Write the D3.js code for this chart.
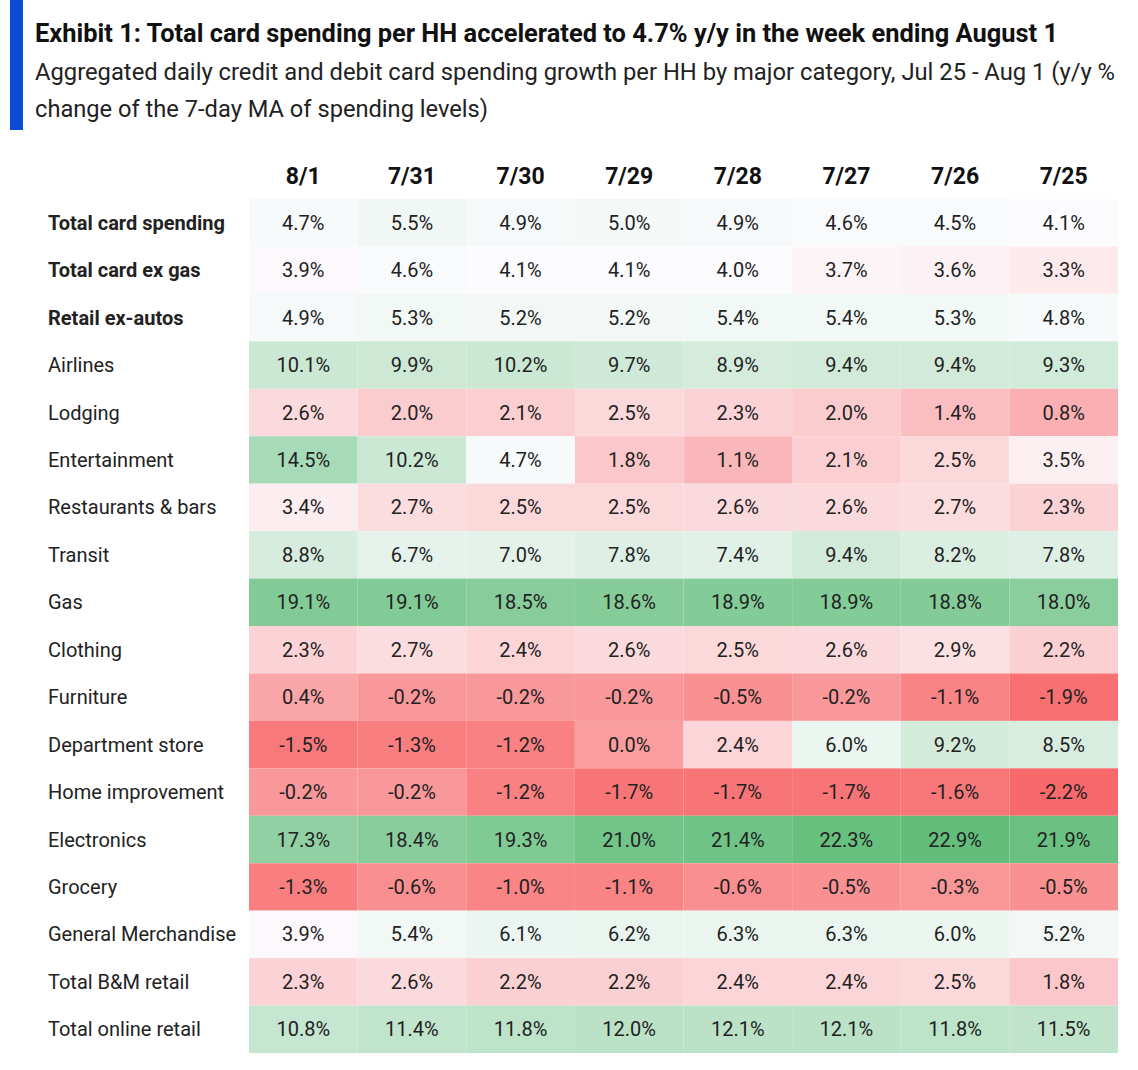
<!DOCTYPE html>
<html><head><meta charset="utf-8">
<script src="https://cdn.jsdelivr.net/npm/d3@7"></script>
<style>body{margin:0;background:#fff;font-family:Roboto,"Noto Sans",sans-serif}</style>
</head><body><svg id="chart" width="1138" height="1070"></svg>
<script>
// dates, row labels, and the y/y values
var dates = ["8/1","7/31","7/30","7/29","7/28","7/27","7/26","7/25"];
var rowLabels = ["Total card spending","Total card ex gas","Retail ex-autos","Airlines","Lodging","Entertainment","Restaurants & bars","Transit","Gas","Clothing","Furniture","Department store","Home improvement","Electronics","Grocery","General Merchandise","Total B&M retail","Total online retail"];
var boldRows = ["Total card spending","Total card ex gas","Retail ex-autos"];
var values = [
  [4.7,5.5,4.9,5.0,4.9,4.6,4.5,4.1],
  [3.9,4.6,4.1,4.1,4.0,3.7,3.6,3.3],
  [4.9,5.3,5.2,5.2,5.4,5.4,5.3,4.8],
  [10.1,9.9,10.2,9.7,8.9,9.4,9.4,9.3],
  [2.6,2.0,2.1,2.5,2.3,2.0,1.4,0.8],
  [14.5,10.2,4.7,1.8,1.1,2.1,2.5,3.5],
  [3.4,2.7,2.5,2.5,2.6,2.6,2.7,2.3],
  [8.8,6.7,7.0,7.8,7.4,9.4,8.2,7.8],
  [19.1,19.1,18.5,18.6,18.9,18.9,18.8,18.0],
  [2.3,2.7,2.4,2.6,2.5,2.6,2.9,2.2],
  [0.4,-0.2,-0.2,-0.2,-0.5,-0.2,-1.1,-1.9],
  [-1.5,-1.3,-1.2,0.0,2.4,6.0,9.2,8.5],
  [-0.2,-0.2,-1.2,-1.7,-1.7,-1.7,-1.6,-2.2],
  [17.3,18.4,19.3,21.0,21.4,22.3,22.9,21.9],
  [-1.3,-0.6,-1.0,-1.1,-0.6,-0.5,-0.3,-0.5],
  [3.9,5.4,6.1,6.2,6.3,6.3,6.0,5.2],
  [2.3,2.6,2.2,2.2,2.4,2.4,2.5,1.8],
  [10.8,11.4,11.8,12.0,12.1,12.1,11.8,11.5]
];

var svg = d3.select("#chart");

// title block
svg.append("rect").attr("x",10).attr("y",0).attr("width",13).attr("height",130).attr("fill","#0a4bd6");
svg.append("text").attr("x",35).attr("y",42).attr("font-size",25).attr("font-weight","bold").attr("fill","#111")
  .attr("textLength",1023).attr("lengthAdjust","spacingAndGlyphs")
  .text("Exhibit 1: Total card spending per HH accelerated to 4.7% y/y in the week ending August 1");
svg.append("text").attr("x",35).attr("y",80).attr("font-size",23).attr("fill","#222")
  .attr("textLength",1080).attr("lengthAdjust","spacingAndGlyphs")
  .text("Aggregated daily credit and debit card spending growth per HH by major category, Jul 25 - Aug 1 (y/y %");
svg.append("text").attr("x",35).attr("y",117).attr("font-size",23).attr("fill","#222")
  .attr("textLength",453).attr("lengthAdjust","spacingAndGlyphs")
  .text("change of the 7-day MA of spending levels)");

var x = d3.scaleBand().domain(dates).range([249,1118]);
var y = d3.scaleBand().domain(rowLabels).range([199,1053]);

// Excel-style 3-colour scale, midpoint = median
var all = values.flat();
var mid = d3.median(all);
var color = d3.scaleLinear().domain([d3.min(all), mid, d3.max(all)])
  .range(["#f8696b","#fcfcff","#63be7b"]);

var cells = [];
values.forEach(function(row, i) {
  row.forEach(function(v, j) { cells.push({row: rowLabels[i], col: dates[j], v: v}); });
});

svg.selectAll("rect.cell").data(cells).enter().append("rect")
  .attr("x", function(d){ return x(d.col); })
  .attr("y", function(d){ return y(d.row); })
  .attr("width", x.bandwidth()).attr("height", y.bandwidth())
  .attr("fill", function(d){ return color(d.v); });

svg.selectAll("text.val").data(cells).enter().append("text")
  .attr("x", function(d){ return x(d.col) + x.bandwidth()/2; })
  .attr("y", function(d){ return y(d.row) + y.bandwidth()/2 + 7; })
  .attr("text-anchor","middle").attr("font-size",20).attr("fill","#222")
  .text(function(d){ return d.v.toFixed(1) + "%"; });

svg.selectAll("text.hdr").data(dates).enter().append("text")
  .attr("x", function(d){ return x(d) + x.bandwidth()/2; })
  .attr("y", 184).attr("text-anchor","middle")
  .attr("font-size",23).attr("font-weight","bold").attr("fill","#111")
  .text(function(d){ return d; });

svg.selectAll("text.lbl").data(rowLabels).enter().append("text")
  .attr("x", 48)
  .attr("y", function(d){ return y(d) + y.bandwidth()/2 + 7; })
  .attr("font-size",20).attr("fill","#222")
  .attr("font-weight", function(d){ return boldRows.indexOf(d) >= 0 ? "bold" : "normal"; })
  .text(function(d){ return d; });
</script>
</body></html>
